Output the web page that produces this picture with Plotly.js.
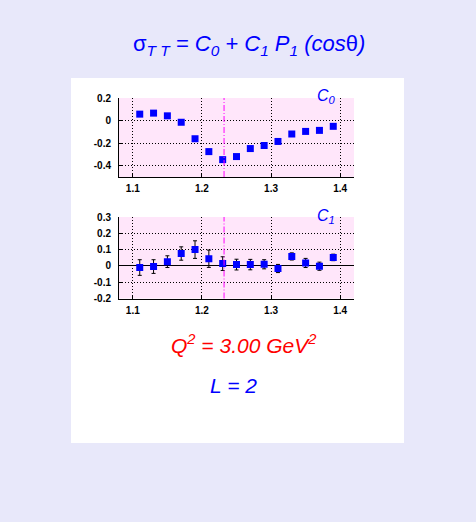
<!DOCTYPE html>
<html>
<head>
<meta charset="utf-8">
<script src="https://cdn.plot.ly/plotly-3.0.1.min.js"></script>
<style>html,body{margin:0;padding:0;background:#e8e8fa;}</style>
</head>
<body>
<div id="chart" style="width:476px;height:522px;"></div>
<script>
// Data
const W = [1.11, 1.13, 1.15, 1.17, 1.19, 1.21, 1.23, 1.25, 1.27, 1.29, 1.31, 1.33, 1.35, 1.37, 1.39];
const C0 = [0.057, 0.066, 0.042, -0.015, -0.161, -0.275, -0.346, -0.319, -0.248, -0.221, -0.185, -0.119, -0.096, -0.087, -0.051];
const C1 = [-0.010, -0.004, 0.026, 0.076, 0.100, 0.044, 0.014, 0.008, 0.008, 0.010, -0.016, 0.058, 0.018, -0.002, 0.052];
const C1err = [0.048, 0.042, 0.036, 0.041, 0.054, 0.053, 0.042, 0.033, 0.032, 0.028, 0.025, 0.022, 0.028, 0.025, 0.020];
const deltaMass = 1.232;
const xTicks = [1.1, 1.2, 1.3, 1.4];
const xTickText = ['1.1', '1.2', '1.3', '1.4'];
const y0Ticks = [-0.4, -0.2, 0, 0.2];
const y0TickText = ['-0.4', '-0.2', '0', '0.2'];
const y1Ticks = [-0.2, -0.1, 0, 0.1, 0.2, 0.3];
const y1TickText = ['-0.2', '-0.1', '0', '0.1', '0.2', '0.3'];

const FW = 476, FH = 522;
const px = v => v / FW;
const py = v => 1 - v / FH;

const tickFont = {family: 'Liberation Sans, Arial, sans-serif', size: 10, color: '#000', weight: 'bold'};
const gridDash = '1px,2px';

const traces = [
  {x: W, y: C0, type: 'scatter', mode: 'markers', xaxis: 'x', yaxis: 'y',
   marker: {symbol: 'square', size: 7, color: '#0000ff'}, showlegend: false, hoverinfo: 'skip'},
  {x: W, y: C1, type: 'scatter', mode: 'markers', xaxis: 'x2', yaxis: 'y2',
   error_y: {type: 'data', array: C1err, visible: true, color: '#000', thickness: 1, width: 2},
   marker: {symbol: 'square', size: 7, color: '#0000ff'}, showlegend: false, hoverinfo: 'skip'}
];

function xax(anchor) {
  return {anchor: anchor, domain: [px(119), px(354)], range: [1.08, 1.42],
    tickvals: xTicks, ticktext: xTickText, tickfont: tickFont,
    ticks: 'inside', ticklen: 3, tickcolor: '#000', ticklabelstandoff: 2,
    showline: true, linecolor: '#000', linewidth: 1,
    showgrid: true, gridcolor: '#000', gridwidth: 1, griddash: gridDash,
    zeroline: false, fixedrange: true};
}
function yax(anchor, dom, range, tv, tt, zl) {
  return {anchor: anchor, domain: dom, range: range,
    tickvals: tv, ticktext: tt, tickfont: tickFont,
    ticks: 'inside', ticklen: 3, tickcolor: '#000', ticklabelstandoff: 5,
    showline: true, linecolor: '#000', linewidth: 1,
    showgrid: true, gridcolor: '#000', gridwidth: 1, griddash: gridDash,
    zeroline: zl, zerolinecolor: '#000', zerolinewidth: 1, fixedrange: true};
}

const annFont = (size, color) => ({family: 'Liberation Sans, Arial, sans-serif', size: size, color: color});

const layout = {
  width: FW, height: FH,
  margin: {l: 0, r: 0, t: 0, b: 0},
  paper_bgcolor: '#e8e8fa',
  plot_bgcolor: 'rgba(0,0,0,0)',
  showlegend: false,
  xaxis: xax('y'),
  yaxis: yax('x', [py(177), py(98)], [-0.5, 0.2], y0Ticks, y0TickText, false),
  xaxis2: xax('y2'),
  yaxis2: yax('x2', [py(298.5), py(217)], [-0.2, 0.3], y1Ticks, y1TickText, true),
  shapes: [
    {type: 'rect', xref: 'paper', yref: 'paper', x0: px(71), x1: px(404), y0: py(443), y1: py(78),
     fillcolor: '#ffffff', line: {width: 0}, layer: 'below'},
    {type: 'rect', xref: 'x domain', yref: 'y domain', x0: 0, x1: 1, y0: 0, y1: 1,
     fillcolor: '#ffe6fa', line: {width: 0}, layer: 'below'},
    {type: 'rect', xref: 'x2 domain', yref: 'y2 domain', x0: 0, x1: 1, y0: 0, y1: 1,
     fillcolor: '#ffe6fa', line: {width: 0}, layer: 'below'},
    {type: 'line', xref: 'x', yref: 'y domain', x0: deltaMass, x1: deltaMass, y0: 0, y1: 1,
     line: {color: '#ff00ff', width: 1, dash: '6px,2px,1px,2px'}},
    {type: 'line', xref: 'x2', yref: 'y2 domain', x0: deltaMass, x1: deltaMass, y0: 0, y1: 1,
     line: {color: '#ff00ff', width: 1, dash: '6px,2px,1px,2px'}}
  ],
  annotations: [
    {xref: 'paper', yref: 'paper', x: px(249), y: py(45), xanchor: 'center', yanchor: 'middle', showarrow: false,
     text: 'σ<sub><i>T T</i></sub><i> = C<sub>0</sub> + C<sub>1</sub> P<sub>1</sub> (cos</i>θ<i>)</i>',
     font: annFont(22, '#0000ff')},
    {xref: 'paper', yref: 'paper', x: px(326), y: py(96), xanchor: 'center', yanchor: 'middle', showarrow: false,
     text: '<i>C<sub>0</sub></i>', font: annFont(16, '#0000ff')},
    {xref: 'paper', yref: 'paper', x: px(326), y: py(217), xanchor: 'center', yanchor: 'middle', showarrow: false,
     text: '<i>C<sub>1</sub></i>', font: annFont(16, '#0000ff')},
    {xref: 'paper', yref: 'paper', x: px(244), y: py(344), xanchor: 'center', yanchor: 'middle', showarrow: false,
     text: '<i>Q<sup>2</sup> = 3.00 GeV<sup>2</sup></i>', font: annFont(21, '#ff0000')},
    {xref: 'paper', yref: 'paper', x: px(233), y: py(385), xanchor: 'center', yanchor: 'middle', showarrow: false,
     text: '<i>L = 2</i>', font: annFont(21, '#0000ff')}
  ]
};

Plotly.newPlot('chart', traces, layout, {staticPlot: true, displayModeBar: false});
</script>
</body>
</html>
